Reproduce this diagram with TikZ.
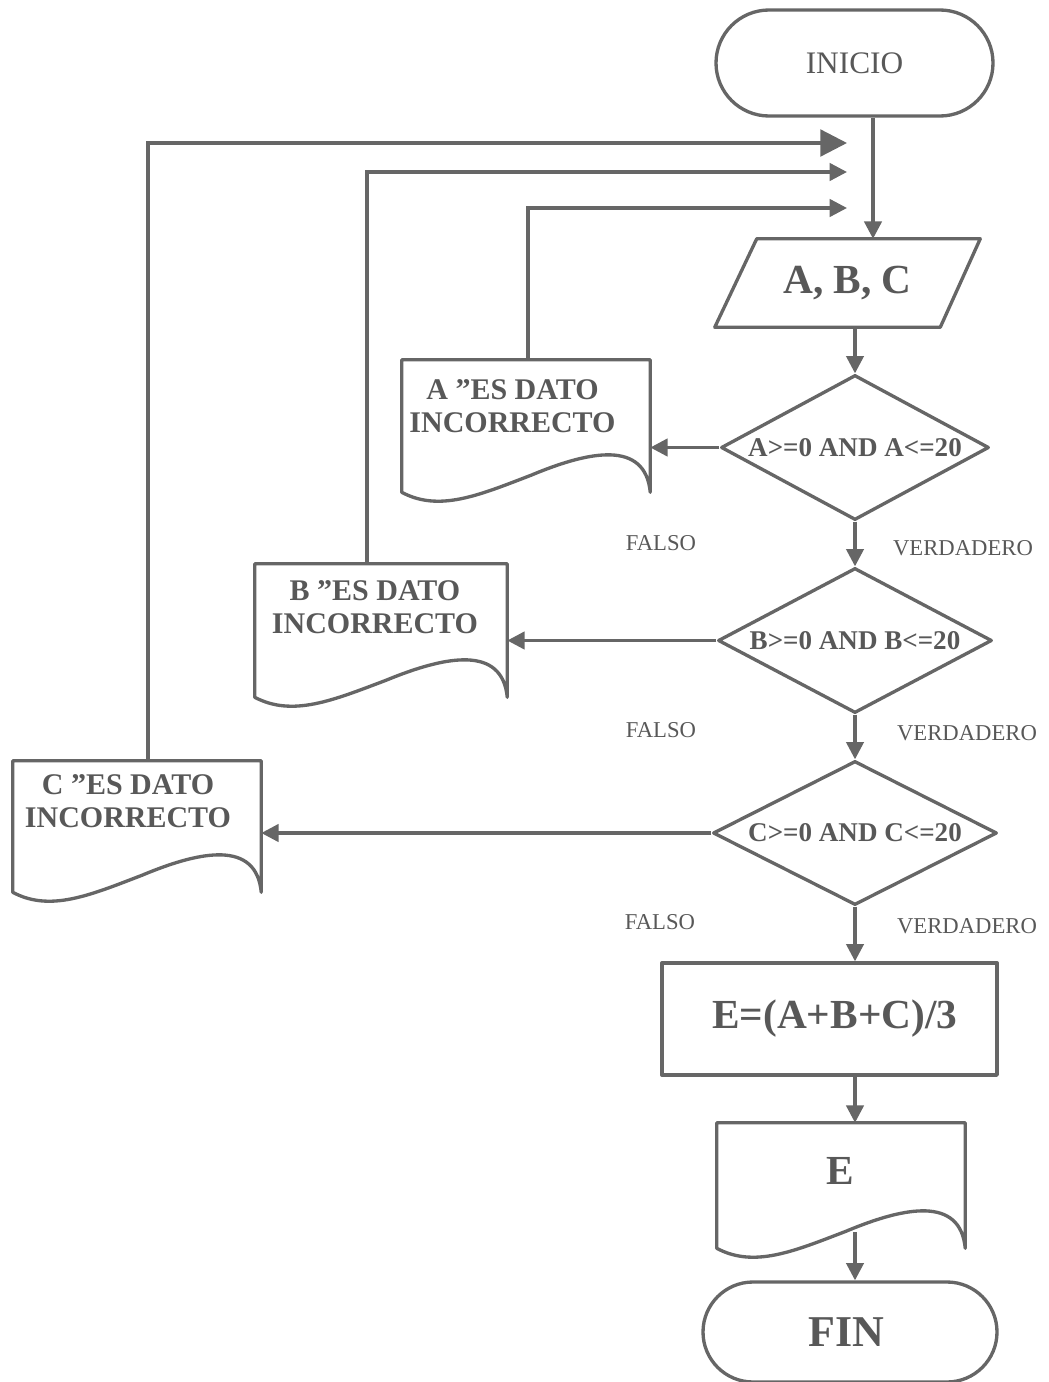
\documentclass[tikz,border=0pt]{standalone}
\usepackage{fontspec}
\setmainfont{Liberation Serif}
\usetikzlibrary{arrows.meta,shapes.geometric,shapes.misc,calc}

\definecolor{ink}{HTML}{585858}
\definecolor{stroke}{HTML}{666666}

\tikzset{
  shape line/.style={draw=stroke, line width=2.5pt, line join=round},
  flow/.style={draw=stroke, line width=2.5pt, -{Triangle[length=13pt,width=13pt]}},
  bigflow/.style={draw=stroke, line width=2.5pt, -{Triangle[length=20pt,width=20pt]}},
  terminal/.style={rounded rectangle, shape line, inner sep=0pt, text=ink},
  decision/.style={diamond, shape line, aspect=1.85, inner sep=0pt,
    minimum height=108.75pt, text=ink, font=\bfseries\fontsize{20.3}{23}\selectfont},
  plain box/.style={inner sep=0pt, text=ink, align=center},
  docbox/.style={inner sep=0pt},
  doctext/.style={plain box, font=\bfseries\fontsize{22.5}{25}\selectfont},
  branch/.style={text=ink, font=\fontsize{17}{20}\selectfont, inner sep=0pt},
}

% Document symbol: box whose bottom edge is a wave (#1 = box node)
\newcommand\docoutline[1]{%
  \draw[shape line] let \p1=(#1.south west), \p2=(#1.north east),
      \n1={\x2-\x1} in
    (\x1,\y1) -- (\x1,\y2) -- (\x2,\y2) -- (\x2,\y1)
    .. controls (\x2-0.02*\n1,\y1+39pt) and (\x2-0.24*\n1,\y1+31.5pt) .. (\x1+0.52*\n1,\y1+12.75pt)
    .. controls (\x1+0.31*\n1,\y1-2.25pt) and (\x1+0.15*\n1,\y1-15pt) .. (\x1,\y1) -- cycle;}

\begin{document}
\begin{tikzpicture}[x=0.75pt,y=-0.75pt]
\useasboundingbox (0,0) rectangle (1049,1382);

% terminals
\node[terminal, minimum width=207.75pt, minimum height=79.5pt,
      font=\fontsize{23.5}{26}\selectfont] (ini) at (854.5,63) {INICIO};
\node[terminal, minimum width=220.5pt, minimum height=75pt,
      font=\bfseries\fontsize{33}{36}\selectfont] (fin) at (850,1332) {\hspace*{-6pt}FIN};

% input parallelogram
\node[plain box, minimum width=198.75pt, minimum height=66pt,
      font=\bfseries\fontsize{31}{34}\selectfont] (pa) at (847.5,283) {A, B, C};
\draw[shape line] ([xshift=31.5pt]pa.north west) -- (pa.north east)
  -- ([xshift=-30pt]pa.south east) -- (pa.south west) -- cycle;

% decisions
\node[decision, minimum width=201pt] (d1) at (855,447.5) {A>=0 AND A<=20};
\node[decision, minimum width=205.5pt] (d2) at (855,640.5) {B>=0 AND B<=20};
\node[decision, minimum width=213pt, minimum height=108pt] (d3) at (855,833) {C>=0 AND C<=20};

% process
\node[plain box, shape line, minimum width=251.25pt, minimum height=84pt,
      font=\bfseries\fontsize{31}{34}\selectfont] (rc) at (829.5,1019) {\hspace*{8pt}E=(A+B+C)/3};

% documents: outline boxes
\node[docbox, minimum width=186pt, minimum height=99pt] (da) at (526,426) {};
\docoutline{da}
\node[docbox, minimum width=189pt, minimum height=99.75pt] (db) at (381,630.5) {};
\docoutline{db}
\node[docbox, minimum width=186pt, minimum height=98.25pt] (dc) at (137,826.5) {};
\docoutline{dc}
\node[docbox, minimum width=186pt, minimum height=93.75pt] (de) at (841,1185.5) {};
\docoutline{de}

% documents: texts
\node[doctext] (ta-text) at (512.5,406) {A ”ES DATO\\INCORRECTO};
\node[doctext] (tb-text) at (375,607) {B ”ES DATO\\INCORRECTO};
\node[doctext] (tc-text) at (128,801) {C ”ES DATO\\INCORRECTO};
\node[plain box, font=\bfseries\fontsize{31}{34}\selectfont] (te-text) at (840,1171) {E};

% branch labels
\node[branch] (fa) at (661,543) {FALSO};
\node[branch] (va) at (963,548) {VERDADERO};
\node[branch] (fb) at (661,730) {FALSO};
\node[branch] (vb) at (967,733) {VERDADERO};
\node[branch] (fc) at (660,922) {FALSO};
\node[branch] (vc) at (967,926) {VERDADERO};

% helper points
\coordinate (col) at (873,0);
\coordinate (ta) at (847,208);
\coordinate (tb) at (847,172);
\coordinate (tc) at (847,143);
\coordinate (dew) at (855,1232);

% main flow
\draw[flow] (ini.south -| col) -- (pa.north -| col);
\draw[flow] (d1.north |- pa.south) -- (d1.north);
\draw[flow] (d1.south) -- (d2.north);
\draw[flow] (d2.south) -- (d3.north);
\draw[flow] (d3.south) -- (d3.south |- rc.north);
\draw[flow] (rc.south -| d3.south) -- (de.north -| d3.south);
\draw[flow] (dew) -- (fin.north -| dew);

% false branches
\draw[flow] (d1.west) -- (d1.west -| da.east);
\draw[flow] (d2.west) -- (d2.west -| db.east);
\draw[flow] (d3.west) -- (d3.west -| dc.east);

% loops back to the input
\draw[flow] ([xshift=1.5pt]da.north) |- (ta);
\draw[flow] ([xshift=-10.5pt]db.north) |- (tb);
\draw[bigflow] ([xshift=8.25pt]dc.north) |- (tc);
\end{tikzpicture}
\end{document}
